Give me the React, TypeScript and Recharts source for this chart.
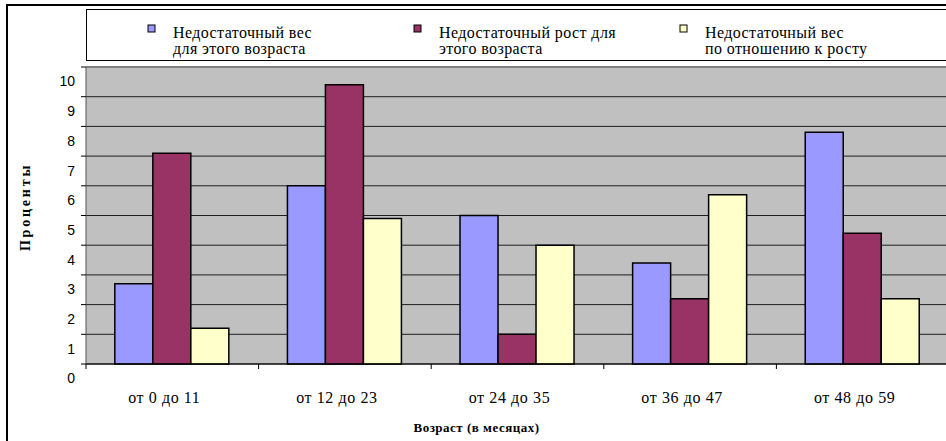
import {
  BarChart,
  Bar,
  XAxis,
  YAxis,
  CartesianGrid,
  Legend,
  ReferenceLine,
  Label,
} from 'recharts';

const ageGroups = ['от 0 до 11', 'от 12 до 23', 'от 24 до 35', 'от 36 до 47', 'от 48 до 59'];
const underweight = [2.7, 6.0, 5.0, 3.4, 7.8];
const stunting = [7.1, 9.4, 1.0, 2.2, 4.4];
const wasting = [1.2, 4.9, 4.0, 5.7, 2.2];
const percentTicks = [0, 1, 2, 3, 4, 5, 6, 7, 8, 9, 10];

const seriesKeys = ['underweight', 'stunting', 'wasting'];
const seriesNames = [
  'Недостаточный вес\nдля этого возраста',
  'Недостаточный рост для\nэтого возраста',
  'Недостаточный вес\nпо отношению к росту',
];
const seriesColors = ['#9999FF', '#993366', '#FFFFCC'];

const rows = ageGroups.map((group, i) => ({
  group,
  underweight: underweight[i],
  stunting: stunting[i],
  wasting: wasting[i],
}));

const SERIF = '"Liberation Serif", "Times New Roman", serif';
const SANS = '"Liberation Sans", Arial, sans-serif';

function AgeTick(props: any) {
  const { x, y, payload, index, visibleTicksCount } = props;
  const half = payload.offset ?? 86;
  const last = index === visibleTicksCount - 1;
  return (
    <g>
      <line x1={x - half} x2={x - half} y1={y - 5} y2={y} stroke="#000" />
      {last && <line x1={x + half} x2={x + half} y1={y - 5} y2={y} stroke="#000" />}
      <text
        x={x - 8}
        y={y + 34}
        textAnchor="middle"
        fontFamily={SERIF}
        fontSize={16}
        letterSpacing={0.6}
        fill="#000"
      >
        {payload.value}
      </text>
    </g>
  );
}

// labels sit a bit below their gridlines, like the original
function PercentTick(props: any) {
  const { x, y, payload } = props;
  return (
    <text x={x} y={y + 14.5} dy="0.355em" textAnchor="end" fontFamily={SANS} fontSize={14} fill="#000">
      {payload.value}
    </text>
  );
}

function LegendBox() {
  return (
    <div
      style={{
        width: '100%',
        height: 52,
        boxSizing: 'border-box',
        border: '1px solid #000',
        background: '#fff',
      }}
    >
      <svg width={878} height={50} style={{ display: 'block' }}>
        {seriesNames.map((name, i) => {
          const left = 61 + i * 266;
          return (
            <g key={`leg-${i}`}>
              <rect x={left} y={15} width={7} height={7} fill={seriesColors[i]} stroke="#000" strokeWidth={1} />
              {name.split('\n').map((line, j) => (
                <text
                  key={j}
                  x={left + 25}
                  y={28 + j * 16}
                  fontFamily={SERIF}
                  fontSize={16}
                  letterSpacing={0.4}
                  fill="#000"
                >
                  {line}
                </text>
              ))}
            </g>
          );
        })}
      </svg>
    </div>
  );
}

export default function App() {
  return (
    <div style={{ position: 'absolute', left: 0, top: 0, width: 946, height: 441, overflow: 'hidden', background: '#fff' }}>
      <div
        style={{
          position: 'absolute',
          left: 6,
          top: 4,
          width: 1000,
          height: 500,
          border: '2px solid #000',
        }}
      />
      <div style={{ position: 'absolute', left: 0, top: 0 }}>
        <BarChart
          width={960}
          height={460}
          data={rows}
          margin={{ top: 67, right: 11, left: 46, bottom: 66 }}
          barCategoryGap="16.7%"
          barGap={0}
        >
          <CartesianGrid vertical={false} fill="#C0C0C0" fillOpacity={1} stroke="#1e1e1e" />
          <XAxis
            dataKey="group"
            height={30}
            interval={0}
            tickSize={5}
            tickMargin={0}
            tickLine={false}
            axisLine={{ stroke: '#000' }}
            tick={<AgeTick />}
          >
            <Label
              content={({ viewBox }: any) => (
                <text
                  x={viewBox.x + viewBox.width / 2 - 41}
                  y={viewBox.y + 68}
                  textAnchor="middle"
                  fontFamily={SERIF}
                  fontSize={13}
                  fontWeight="bold"
                  letterSpacing={0.5}
                  fill="#000"
                >
                  Возраст (в месяцах)
                </text>
              )}
            />
          </XAxis>
          <YAxis
            domain={[0, 10]}
            ticks={percentTicks}
            width={40}
            tickSize={5}
            tickMargin={6}
            tickLine={{ stroke: '#000' }}
            axisLine={{ stroke: '#555' }}
            tick={<PercentTick />}
          >
            <Label
              content={() => (
                <text
                  x={25}
                  y={207}
                  transform="rotate(-90, 25, 207)"
                  textAnchor="middle"
                  dominantBaseline="central"
                  fontFamily={SERIF}
                  fontSize={14}
                  fontWeight="bold"
                  letterSpacing={2.8}
                  fill="#000"
                >
                  Проценты
                </text>
              )}
            />
          </YAxis>
          <ReferenceLine y={10} stroke="#808080" strokeWidth={2} />
          <Legend
            layout="vertical"
            verticalAlign="middle"
            align="center"
            wrapperStyle={{ top: 9, left: 86, width: 880, height: 52 }}
            content={<LegendBox />}
          />
          {seriesKeys.map((key, i) => (
            <Bar
              key={key}
              dataKey={key}
              name={seriesNames[i]}
              fill={seriesColors[i]}
              stroke="#000"
              strokeWidth={1.5}
              isAnimationActive={false}
            />
          ))}
        </BarChart>
      </div>
    </div>
  );
}
